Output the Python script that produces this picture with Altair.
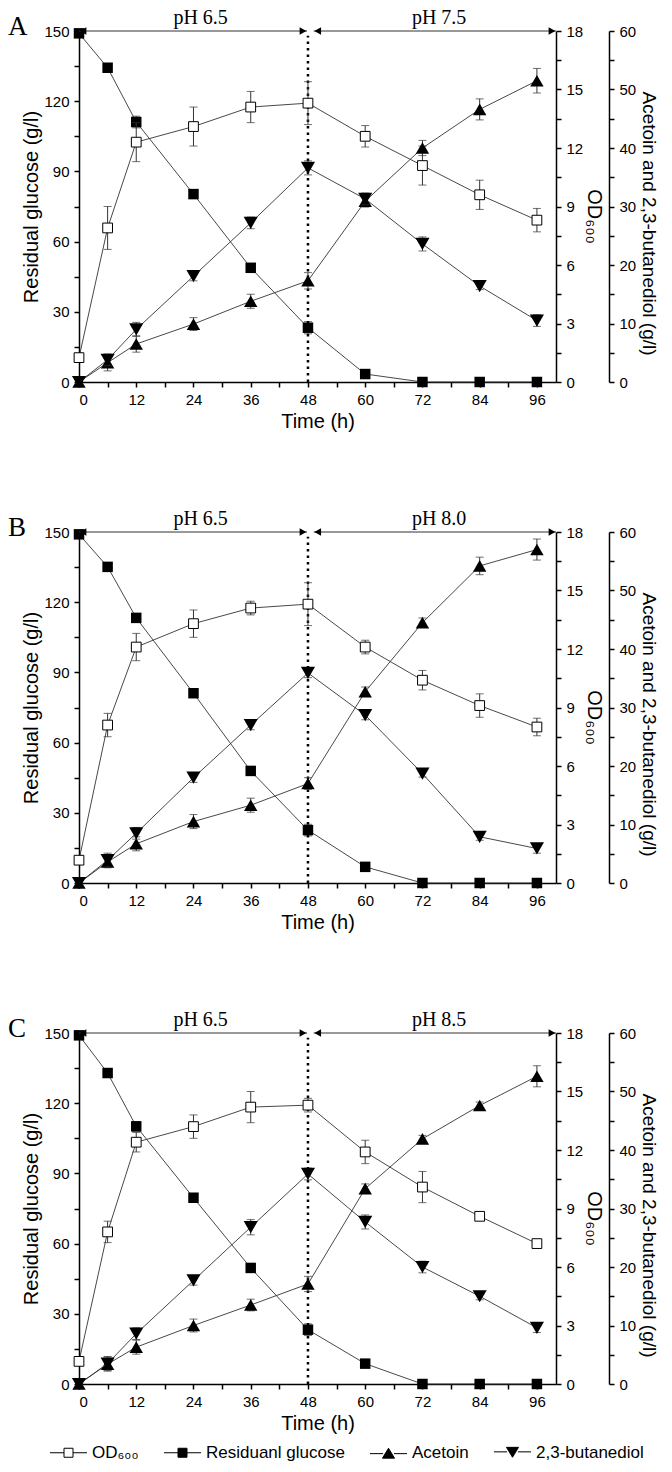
import altair as alt
import pandas as pd

# ---------------- data ----------------
time_h = [0, 6, 12, 24, 36, 48, 60, 72, 84, 96]

panel_letters = ["A", "B", "C"]
ph_first = "pH 6.5"
ph_second = ["pH 7.5", "pH 8.0", "pH 8.5"]
ph_label_x = [25.5, 75.5]
arrow_start = [0, 49.2]
arrow_end = [47.8, 100]
ph_switch_time = [48]

# Panel A
A_glucose = [149, 134.3, 111.1, 80.3, 48.8, 23.2, 3.4, 0, 0, 0]
A_glucose_err = [0.8, 1.0, 2.5, 1.0, 1.2, 2.6, 0.8, 0.5, 0.5, 0.5]
A_od = [1.25, 7.9, 12.3, 13.1, 14.1, 14.3, 12.6, 11.1, 9.6, 8.3]
A_od_err = [0.2, 1.1, 1.0, 1.0, 0.8, 1.1, 0.55, 1.0, 0.75, 0.6]
A_acetoin = [0, 3.3, 6.5, 9.9, 13.8, 17.3, 30.9, 40.0, 46.6, 51.5]
A_acetoin_err = [0.2, 1.4, 1.4, 1.1, 1.2, 1.4, 1.0, 1.3, 1.8, 2.1]
A_butanediol = [0, 3.8, 9.0, 18.1, 27.2, 36.6, 31.3, 23.6, 16.4, 10.5]
A_butanediol_err = [0.2, 1.0, 1.2, 0.8, 1.0, 1.2, 1.0, 1.2, 0.6, 1.0]

# Panel B
B_glucose = [149, 135.1, 113.3, 81.1, 47.9, 22.6, 6.9, 0, 0, 0]
B_glucose_err = [0.8, 0.8, 1.5, 0.8, 0.8, 2.5, 0.8, 0.5, 0.5, 0.5]
B_od = [1.17, 8.1, 12.1, 13.3, 14.1, 14.3, 12.1, 10.4, 9.1, 8.0]
B_od_err = [0.2, 0.6, 0.7, 0.7, 0.35, 1.1, 0.35, 0.5, 0.6, 0.45]
B_acetoin = [0, 3.6, 6.7, 10.5, 13.3, 17.0, 32.7, 44.5, 54.2, 57.0]
B_acetoin_err = [0.2, 1.0, 1.2, 1.2, 1.2, 1.0, 0.8, 0.8, 1.5, 1.8]
B_butanediol = [0, 3.9, 8.5, 18.0, 27.0, 35.9, 28.7, 18.7, 7.9, 5.9]
B_butanediol_err = [0.2, 1.2, 1.0, 0.8, 0.8, 0.8, 0.8, 0.6, 0.6, 0.8]

# Panel C
C_glucose = [149, 132.9, 110.1, 79.6, 49.6, 23.2, 8.7, 0, 0, 0]
C_glucose_err = [0.8, 0.8, 2.0, 0.8, 0.8, 2.5, 0.8, 0.5, 0.5, 0.5]
C_od = [1.16, 7.8, 12.4, 13.2, 14.2, 14.3, 11.9, 10.1, 8.6, 7.2]
C_od_err = [0.2, 0.55, 0.5, 0.6, 0.8, 0.35, 0.6, 0.8, 0.15, 0.15]
C_acetoin = [0, 3.4, 6.3, 10.0, 13.5, 17.1, 33.4, 41.9, 47.6, 52.6]
C_acetoin_err = [0.2, 1.2, 1.2, 1.1, 1.0, 1.3, 0.8, 0.6, 0.6, 1.8]
C_butanediol = [0, 3.5, 8.6, 17.7, 26.8, 35.9, 27.7, 20.0, 15.0, 9.6]
C_butanediol_err = [0.2, 1.2, 1.0, 0.8, 1.3, 1.0, 1.2, 1.0, 0.6, 0.8]

legend_labels = ["OD\u2086\u2080\u2080", "Residuanl glucose", "Acetoin", "2,3-butanediol"]
legend_paths = [
    "M-2.06,0H-0.5M0.5,0H2.06M-0.5,-0.5H0.5V0.5H-0.5Z",
    "M-2.06,0H-0.5M0.5,0H2.06M-0.5,-0.5H0.5V0.5H-0.5Z",
    "M-2.06,0.1H-0.6M0.6,0.1H2.06M0,-0.5L0.67,0.6L-0.67,0.6Z",
    "M-2.06,-0.1H-0.6M0.6,-0.1H2.06M0,0.5L0.67,-0.6L-0.67,-0.6Z",
]
legend_fills = ["white", "black", "black", "black"]
legend_strokes = ["black", "black", "black", "black"]

# ---------------- helpers ----------------
SANS = "Liberation Sans"
SERIF = "Liberation Serif"
W, H = 477, 351

X_AXIS = alt.Axis(values=list(range(0, 97, 6)),
                  labelExpr="datum.value % 12 === 0 ? datum.label : ''",
                  title="Time (h)", titlePadding=4)

Y_DOMAIN = {"gl": [0, 150], "od": [0, 18], "pr": [0, 60]}
AXES = {
    "gl": alt.Axis(orient="left", values=[0, 15, 30, 45, 60, 75, 90, 105, 120, 135, 150],
                   labelExpr="datum.value % 30 === 0 ? datum.label : ''",
                   title="Residual glucose (g/l)", titlePadding=2),
    "od": alt.Axis(orient="right", values=[0, 1.5, 3, 4.5, 6, 7.5, 9, 10.5, 12, 13.5, 15, 16.5, 18],
                   labelExpr="datum.value % 3 === 0 ? format(datum.value, 'd') : ''",
                   title="OD\u2086\u2080\u2080", titlePadding=1, titleY=185),
    "pr": alt.Axis(orient="right", offset=53, values=[0, 5, 10, 15, 20, 25, 30, 35, 40, 45, 50, 55, 60],
                   labelExpr="datum.value % 10 === 0 ? datum.label : ''",
                   title="Acetoin and 2,3-butanediol (g/l)", titlePadding=3, titleY=192,
                   titleFontSize=19),
}


def xenc(field="time"):
    return alt.X(f"{field}:Q", scale=alt.Scale(domain=[0, 100], nice=False, zero=False),
                 axis=X_AXIS)


def yenc(field, grp):
    return alt.Y(f"{field}:Q", scale=alt.Scale(domain=Y_DOMAIN[grp], nice=False, zero=False),
                 axis=AXES[grp])


def make_df(series):
    rows = []
    for name, vals, errs in series:
        for t, v, e in zip(time_h, vals, errs):
            rows.append({"time": t, "value": v, "lo": v - e, "hi": v + e, "series": name})
    return pd.DataFrame(rows)


def series_layers(df, name, grp, shape, size, open_marker=False):
    base = alt.Chart(df).transform_filter(alt.datum.series == name)
    line = base.mark_line(color="#333333", strokeWidth=0.9).encode(
        x=xenc(), y=yenc("value", grp))
    err = base.mark_errorbar(ticks={"size": 8, "color": "#333333"}, color="#333333",
                             thickness=1).encode(
        x=xenc(), y=yenc("lo", grp), y2=alt.Y2("hi:Q"))
    if open_marker:
        pts = base.mark_point(shape=shape, size=size, filled=True, fill="white",
                              stroke="black", strokeWidth=1, opacity=1)
    else:
        pts = base.mark_point(shape=shape, size=size, filled=True, color="black", opacity=1)
    pts = pts.encode(x=xenc(), y=yenc("value", grp))
    return [line, err, pts]


def panel(idx, gl, gl_e, od, od_e, ac, ac_e, bd, bd_e, with_legend=False):
    df = make_df([("glucose", gl, gl_e), ("od", od, od_e),
                  ("acetoin", ac, ac_e), ("bd", bd, bd_e)])

    arrow_df = pd.DataFrame({"x1": arrow_start, "x2": arrow_end, "y": [150, 150]})
    arrows = alt.Chart(arrow_df).mark_rule(color="#333333", strokeWidth=1).encode(
        x=xenc("x1"), x2="x2:Q", y=yenc("y", "gl"))
    heads_l = alt.Chart(arrow_df).mark_point(shape="triangle-left", size=60, filled=True,
                                             color="black", opacity=1, xOffset=4).encode(
        x=xenc("x1"), y=yenc("y", "gl"))
    heads_r = alt.Chart(arrow_df).mark_point(shape="triangle-right", size=60, filled=True,
                                             color="black", opacity=1, xOffset=-4).encode(
        x=xenc("x2"), y=yenc("y", "gl"))

    dot_df = pd.DataFrame({"x": ph_switch_time, "y0": [0], "y1": [148]})
    dotted = alt.Chart(dot_df).mark_rule(color="black", strokeWidth=2.5,
                                         strokeDash=[2.5, 4]).encode(
        x=xenc("x"), y=yenc("y0", "gl"), y2="y1:Q")

    ph_df = pd.DataFrame({"x": ph_label_x, "y": [150, 150],
                          "label": [ph_first, ph_second[idx]]})
    ph_text = alt.Chart(ph_df).mark_text(font=SERIF, fontSize=20, dy=-7, align="center",
                                         baseline="alphabetic", color="black").encode(
        x=xenc("x"), y=yenc("y", "gl"), text="label:N")

    let_df = pd.DataFrame({"t": [panel_letters[idx]]})
    letter = alt.Chart(let_df).mark_text(font=SERIF, fontSize=27, align="left",
                                         baseline="alphabetic", color="black").encode(
        x=alt.value(-71), y=alt.value(4), text="t:N")

    gl_layers = series_layers(df, "glucose", "gl", "square", 110)
    gl_layers += [arrows, heads_l, heads_r, ph_text, dotted, letter]

    if with_legend:
        leg_df = pd.DataFrame({"series": legend_labels})
        leg_props = dict(orient="none", legendX=-20, legendY=1412, direction="horizontal",
                         title=None, labelFont=SANS, labelFontSize=17, labelLimit=0,
                         symbolSize=324, symbolStrokeWidth=1, padding=0,
                         symbolOpacity=1, labelOffset=14, columnPadding=22,
                         labelColor="black")
        leg = alt.Chart(leg_df).transform_filter("false").mark_point(filled=True).encode(
            x=alt.value(0), y=alt.value(0),
            shape=alt.Shape("series:N", sort=None,
                            scale=alt.Scale(domain=legend_labels, range=legend_paths),
                            legend=alt.Legend(**leg_props)),
            fill=alt.Fill("series:N", sort=None,
                          scale=alt.Scale(domain=legend_labels, range=legend_fills),
                          legend=alt.Legend(**leg_props)),
            stroke=alt.Stroke("series:N", sort=None,
                              scale=alt.Scale(domain=legend_labels, range=legend_strokes),
                              legend=alt.Legend(**leg_props)),
        )
        gl_layers.append(leg)

    gl_layer = alt.layer(*gl_layers)
    od_layer = alt.layer(*series_layers(df, "od", "od", "square", 95, open_marker=True))
    pr_layer = alt.layer(*series_layers(df, "acetoin", "pr", "triangle-up", 180),
                         *series_layers(df, "bd", "pr", "triangle-down", 200))
    return alt.layer(gl_layer, od_layer, pr_layer).resolve_scale(y="independent").properties(
        width=W, height=H)


pA = panel(0, A_glucose, A_glucose_err, A_od, A_od_err, A_acetoin, A_acetoin_err,
           A_butanediol, A_butanediol_err)
pB = panel(1, B_glucose, B_glucose_err, B_od, B_od_err, B_acetoin, B_acetoin_err,
           B_butanediol, B_butanediol_err)
pC = panel(2, C_glucose, C_glucose_err, C_od, C_od_err, C_acetoin, C_acetoin_err,
           C_butanediol, C_butanediol_err, with_legend=True)

chart = alt.vconcat(pA, pB, pC, spacing=150, bounds="flush").properties(
    padding={"left": 0, "top": 0, "right": 0, "bottom": 0}
).configure(font=SANS).configure_view(stroke=None).configure_axis(
    domainColor="black", domainWidth=1.5, tickColor="black", tickWidth=1.5, tickSize=5,
    labelColor="black", titleColor="black", labelFont=SANS, titleFont=SANS,
    labelFontSize=15, titleFontSize=20, titleFontWeight="normal", labelPadding=5,
    grid=False
)

chart.save("out.html", embed_options={"renderer": "svg", "actions": False})
